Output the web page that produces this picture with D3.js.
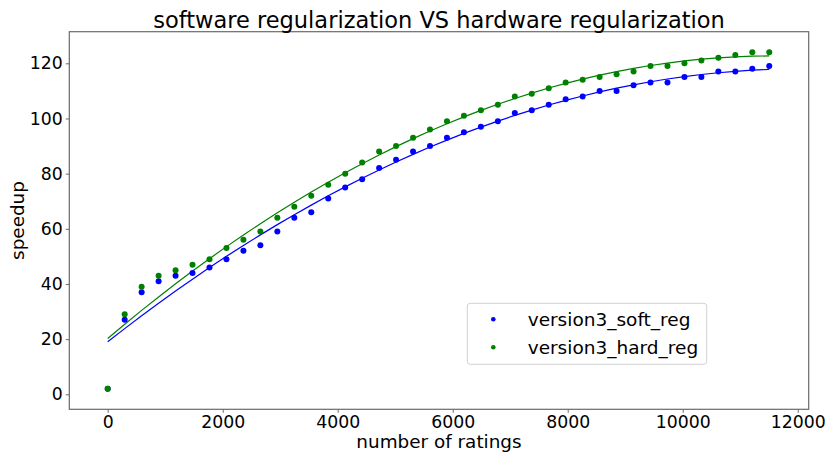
<!DOCTYPE html>
<html>
<head>
<meta charset="utf-8">
<script src="https://cdn.jsdelivr.net/npm/d3@7"></script>
<style>
  html, body { margin: 0; padding: 0; background: #fff; }
  svg { display: block; }
  text { font-family: "DejaVu Sans", sans-serif; fill: #000; }
</style>
</head>
<body>
<svg id="chart" width="829" height="452"></svg>
<script>
// Number of ratings at each measurement
const ratings = [0, 295, 590, 885, 1180, 1475, 1770, 2065, 2360, 2655,
  2950, 3245, 3540, 3835, 4130, 4425, 4720, 5015, 5310, 5605,
  5900, 6195, 6490, 6785, 7080, 7375, 7670, 7965, 8260, 8555,
  8850, 9145, 9440, 9735, 10030, 10325, 10620, 10915, 11210, 11505];

// Speedup measured with software regularization
const softReg = [2, 27, 37, 41, 43, 44, 46, 49, 52, 54,
  59, 64, 66, 71, 75, 78, 82, 85, 88, 90,
  93, 95, 97, 99, 102, 103, 105, 107, 108, 110,
  110, 112, 113, 113, 115, 115, 117, 117, 118, 119];

// Speedup measured with hardware regularization
const hardReg = [2, 29, 39, 43, 45, 47, 49, 53, 56, 59,
  64, 68, 72, 76, 80, 84, 88, 90, 93, 96,
  99, 101, 103, 105, 108, 109, 111, 113, 114, 115,
  116, 117, 119, 119, 120, 121, 122, 123, 124, 124];

const seriesNames = ["version3_soft_reg", "version3_hard_reg"];
const seriesColors = ["#0000ff", "#008000"];
const xTicks = [0, 2000, 4000, 6000, 8000, 10000, 12000];
const yTicks = [0, 20, 40, 60, 80, 100, 120];

const titleText = "software regularization VS hardware regularization";
const xLabel = "number of ratings";
const yLabel = "speedup";

// Least-squares polynomial fit (like numpy.polyfit), x rescaled to thousands
function polyfit(xs, ys, deg) {
  const n = deg + 1;
  const A = Array.from({length: n}, () => new Array(n + 1).fill(0));
  xs.forEach((x0, k) => {
    const x = x0 / 1000;
    for (let i = 0; i < n; i++) {
      for (let j = 0; j < n; j++) A[i][j] += Math.pow(x, i + j);
      A[i][n] += ys[k] * Math.pow(x, i);
    }
  });
  for (let c = 0; c < n; c++) {
    let p = c;
    for (let r = c + 1; r < n; r++) if (Math.abs(A[r][c]) > Math.abs(A[p][c])) p = r;
    [A[c], A[p]] = [A[p], A[c]];
    for (let r = 0; r < n; r++) {
      if (r === c) continue;
      const f = A[r][c] / A[c][c];
      for (let k = c; k <= n; k++) A[r][k] -= f * A[c][k];
    }
  }
  const coef = A.map((row, i) => row[n] / row[i]);
  return x0 => coef.reduce((s, c, i) => s + c * Math.pow(x0 / 1000, i), 0);
}

const svg = d3.select("#chart");
const plot = {left: 69.3, right: 808.7, top: 31.7, bottom: 409.3};

const x = d3.scaleLinear().domain([-668, 12191]).range([plot.left, plot.right]);
const y = d3.scaleLinear().domain([-5.44, 131.46]).range([plot.bottom, plot.top]);

const axisColor = "#6a6a6a";

// frame
svg.append("rect")
  .attr("x", plot.left).attr("y", plot.top)
  .attr("width", plot.right - plot.left).attr("height", plot.bottom - plot.top)
  .attr("fill", "none").attr("stroke", axisColor).attr("stroke-width", 1.2);

// x axis
const gx = svg.append("g").attr("transform", `translate(0,${plot.bottom})`)
  .call(d3.axisBottom(x).tickValues(xTicks).tickFormat(d3.format("d")).tickSize(3.5).tickPadding(3));
gx.select(".domain").remove();
gx.selectAll("line").attr("stroke", axisColor);
gx.selectAll("text").attr("font-size", 17.3).style("font-family", "DejaVu Sans");

// y axis
const gy = svg.append("g").attr("transform", `translate(${plot.left},0)`)
  .call(d3.axisLeft(y).tickValues(yTicks).tickFormat(d3.format("d")).tickSize(3.5).tickPadding(3));
gy.select(".domain").remove();
gy.selectAll("line").attr("stroke", axisColor);
gy.selectAll("text").attr("font-size", 17.3).style("font-family", "DejaVu Sans");

// fitted curves and measured points
svg.append("clipPath").attr("id", "plotClip").append("rect")
  .attr("x", plot.left).attr("y", plot.top)
  .attr("width", plot.right - plot.left).attr("height", plot.bottom - plot.top);

const seriesData = [softReg, hardReg];
const gData = svg.append("g").attr("clip-path", "url(#plotClip)");

seriesData.forEach((vals, s) => {
  const fit = polyfit(ratings, vals, 2);
  const line = d3.line().x(d => x(d)).y(d => y(fit(d)));
  gData.append("path")
    .attr("d", line(ratings))
    .attr("fill", "none")
    .attr("stroke", seriesColors[s])
    .attr("stroke-width", 1.2);
});

seriesData.forEach((vals, s) => {
  gData.append("g").selectAll("circle")
    .data(vals)
    .join("circle")
    .attr("cx", (d, i) => x(ratings[i]))
    .attr("cy", d => y(d))
    .attr("r", 3)
    .attr("fill", seriesColors[s]);
});

// title
svg.append("text")
  .attr("x", (plot.left + plot.right) / 2).attr("y", 27.5)
  .attr("text-anchor", "middle").attr("font-size", 22.5)
  .text(titleText);

// axis labels
svg.append("text")
  .attr("x", (plot.left + plot.right) / 2).attr("y", 447.5)
  .attr("text-anchor", "middle").attr("font-size", 18.4)
  .text(xLabel);

svg.append("text")
  .attr("transform", `translate(24,${(plot.top + plot.bottom) / 2}) rotate(-90)`)
  .attr("text-anchor", "middle").attr("font-size", 18.4)
  .text(yLabel);

// legend
const legend = svg.append("g");
legend.append("rect")
  .attr("x", 467.3).attr("y", 303.3).attr("width", 239.4).attr("height", 61)
  .attr("rx", 3).attr("fill", "#fff").attr("fill-opacity", 0.8)
  .attr("stroke", "#d0d0d0").attr("stroke-width", 1);
seriesNames.forEach((name, s) => {
  const yy = 319.3 + s * 28;
  legend.append("circle").attr("cx", 493.3).attr("cy", yy).attr("r", 2.3)
    .attr("fill", seriesColors[s]);
  legend.append("text").attr("x", 527.7).attr("y", yy + 6.5)
    .attr("font-size", 18.5).text(name);
});
</script>
</body>
</html>
